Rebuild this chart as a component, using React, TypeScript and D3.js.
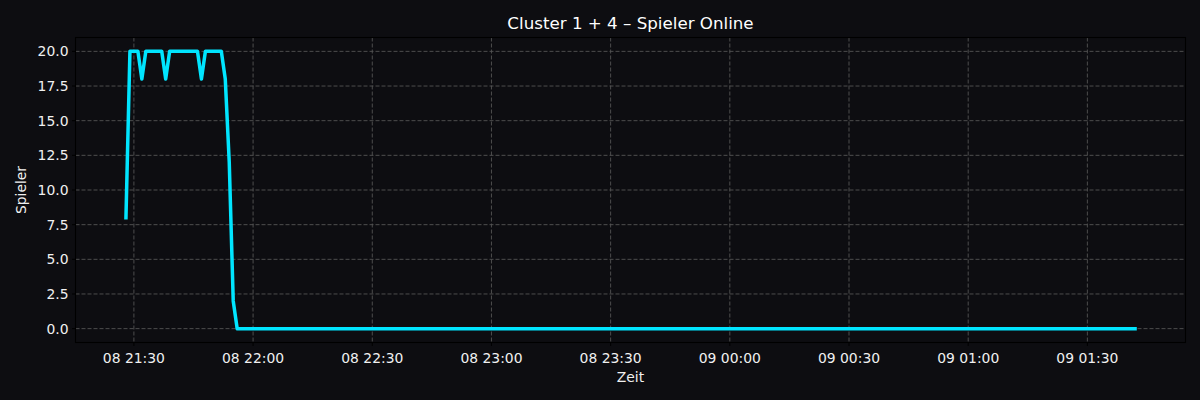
import React from "react";
import * as d3 from "d3";

// Data: time stamps (day hh:mm) and players online
const times: string[] = [
  "08 21:28", "08 21:29", "08 21:30", "08 21:31", "08 21:32", "08 21:33",
  "08 21:34", "08 21:35", "08 21:36", "08 21:37", "08 21:38", "08 21:39",
  "08 21:40", "08 21:41", "08 21:42", "08 21:43", "08 21:44", "08 21:45",
  "08 21:46", "08 21:47", "08 21:48", "08 21:49", "08 21:50", "08 21:51",
  "08 21:52", "08 21:53", "08 21:54", "08 21:55", "08 21:56", "09 01:42",
];
const players: number[] = [
  8, 20, 20, 20, 18, 20,
  20, 20, 20, 20, 18, 20,
  20, 20, 20, 20, 20, 20,
  20, 18, 20, 20, 20, 20,
  20, 18, 12, 2, 0, 0,
];
const yTicks: number[] = [0, 2.5, 5, 7.5, 10, 12.5, 15, 17.5, 20];

const title = "Cluster 1 + 4 \u2013 Spieler Online";
const xLabel = "Zeit";
const yLabel = "Spieler";

function parseTime(s: string): Date {
  const [day, hm] = s.split(" ");
  const [h, m] = hm.split(":").map(Number);
  return new Date(2025, 0, Number(day), h, m, 0);
}

export default function App() {
  const W = 1200, H = 400;
  const left = 75.5, right = 1185.5, top = 37.5, bottom = 342.5;
  const bg = "#0d0d11";
  const font = "DejaVu Sans, sans-serif";

  const data = times.map((t, i) => ({ t: parseTime(t), v: players[i] }));
  const [t0, t1] = d3.extent(data, (d) => d.t) as [Date, Date];
  const span = t1.getTime() - t0.getTime();
  const x = d3
    .scaleTime()
    .domain([new Date(t0.getTime() - span * 0.05), new Date(t1.getTime() + span * 0.05)])
    .range([left, right]);
  const y = d3.scaleLinear().domain([-1, 21]).range([bottom, top]);

  const xTicks = x.ticks(d3.timeMinute.every(30) as d3.TimeInterval);
  const fmt = d3.timeFormat("%d %H:%M");

  const line = d3
    .line<{ t: Date; v: number }>()
    .x((d) => x(d.t))
    .y((d) => y(d.v));

  return (
    <div style={{ position: "fixed", left: 0, top: 0 }}>
      <svg width={W} height={H} style={{ display: "block", background: bg }}>
        <rect x={0} y={0} width={W} height={H} fill={bg} />
        <rect x={left} y={top} width={right - left} height={bottom - top} fill={bg} />
        {/* grid */}
        <g stroke="#555" strokeWidth={0.9} strokeDasharray="4,2">
          {xTicks.map((t, i) => (
            <line key={"gx" + i} x1={x(t)} x2={x(t)} y1={top} y2={bottom} />
          ))}
          {yTicks.map((v, i) => (
            <line key={"gy" + i} x1={left} x2={right} y1={y(v)} y2={y(v)} />
          ))}
        </g>
        {/* line */}
        <path
          d={line(data) || ""}
          fill="none"
          stroke="#00e5ff"
          strokeWidth={3.5}
          strokeLinejoin="round"
          strokeLinecap="square"
        />
        {/* spines */}
        <rect
          x={left}
          y={top}
          width={right - left}
          height={bottom - top}
          fill="none"
          stroke="#000"
          strokeWidth={1.1}
        />
        {/* x ticks */}
        <g fontFamily={font} fontSize={13.9} fill="#f0f0f0">
          {xTicks.map((t, i) => (
            <g key={"xt" + i}>
              <line x1={x(t)} x2={x(t)} y1={bottom} y2={bottom + 3.5} stroke="#000" strokeWidth={1} />
              <text x={x(t)} y={bottom + 20} textAnchor="middle">
                {fmt(t)}
              </text>
            </g>
          ))}
          {yTicks.map((v, i) => (
            <g key={"yt" + i}>
              <line x1={left - 3.5} x2={left} y1={y(v)} y2={y(v)} stroke="#000" strokeWidth={1} />
              <text x={left - 7} y={y(v)} dy="0.35em" textAnchor="end">
                {v.toFixed(1)}
              </text>
            </g>
          ))}
        </g>
        {/* labels */}
        <text
          x={(left + right) / 2}
          y={28.5}
          textAnchor="middle"
          fontFamily={font}
          fontSize={16.7}
          fill="#ffffff"
        >
          {title}
        </text>
        <text
          x={(left + right) / 2}
          y={382}
          textAnchor="middle"
          fontFamily={font}
          fontSize={13.9}
          fill="#f0f0f0"
        >
          {xLabel}
        </text>
        <text
          transform={`translate(26, ${(top + bottom) / 2}) rotate(-90)`}
          textAnchor="middle"
          fontFamily={font}
          fontSize={13.9}
          fill="#f0f0f0"
        >
          {yLabel}
        </text>
      </svg>
    </div>
  );
}
